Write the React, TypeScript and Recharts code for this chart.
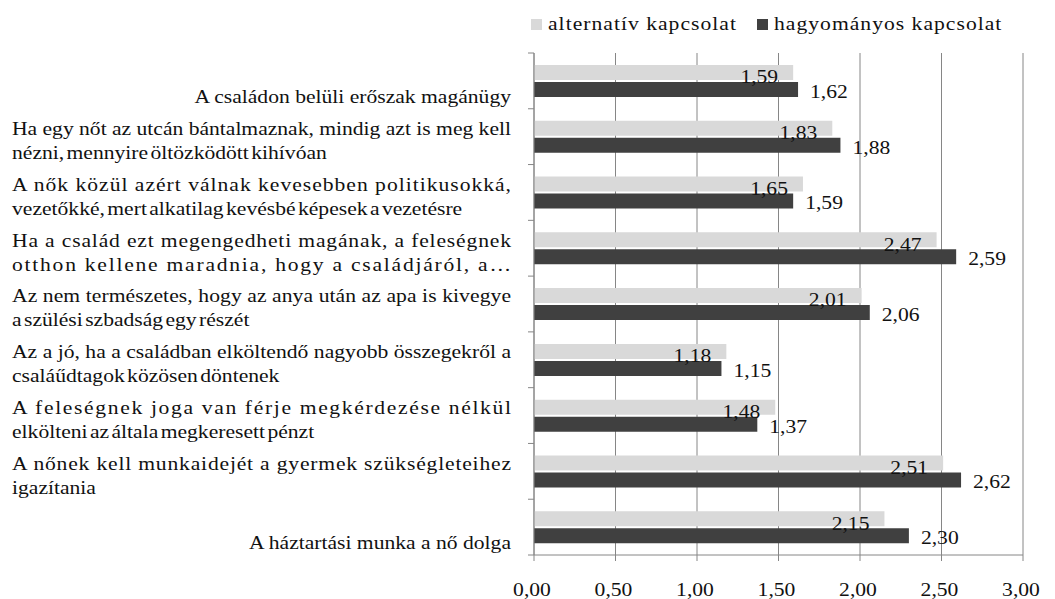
import React from 'react';
import { BarChart, Bar, XAxis, YAxis, CartesianGrid, LabelList } from 'recharts';

const categories = [
  'A családon belüli erőszak magánügy',
  'Ha egy nőt az utcán bántalmaznak, mindig azt is meg kell\nnézni, mennyire öltözködött kihívóan',
  'A nők közül azért válnak kevesebben politikusokká,\nvezetőkké, mert alkatilag kevésbé képesek a vezetésre',
  'Ha a család ezt megengedheti magának, a feleségnek\notthon kellene maradnia, hogy a családjáról, a…',
  'Az nem természetes, hogy az anya után az apa is kivegye\na szülési szbadság egy részét',
  'Az a jó, ha a családban elköltendő nagyobb összegekről a\ncsaláűdtagok közösen döntenek',
  'A feleségnek joga van férje megkérdezése nélkül\nelkölteni az általa megkeresett pénzt',
  'A nőnek kell munkaidejét a gyermek szükségleteihez\nigazítania',
  'A háztartási munka a nő dolga',
];
const seriesNames = ['alternatív kapcsolat', 'hagyományos kapcsolat'];
const alternativ = [1.59, 1.83, 1.65, 2.47, 2.01, 1.18, 1.48, 2.51, 2.15];
const hagyomanyos = [1.62, 1.88, 1.59, 2.59, 2.06, 1.15, 1.37, 2.62, 2.3];
const xTicks = [0, 0.5, 1, 1.5, 2, 2.5, 3];

const data = categories.map((c, i) => ({ cat: c, alt: alternativ[i], hag: hagyomanyos[i] }));

const W = 1055;
const H = 599;
const MARGIN = { top: 53, right: 32, bottom: 0, left: 0 };
const YW = 534;
const XH = 44;
const BAND = (H - MARGIN.top - MARGIN.bottom - XH) / categories.length;
const SX = 1.2;
const FONT = "'Liberation Serif', 'DejaVu Serif', Tinos, 'Times New Roman', serif";
const GRID = '#868686';
const LIGHT = '#d9d9d9';
const DARK = '#404040';
const TEXT = '#111';
const LABEL_LEFT = 12;
const LABEL_RIGHT = 511;

const fmt = (v: number) => v.toFixed(2).replace('.', ',');

const STxt = ({ x, y, anchor, children, justify, tight }: any) => (
  <g transform={`translate(${x},${y}) scale(${SX},1)`}>
    <text
      x={0}
      y={0}
      textAnchor={anchor}
      dominantBaseline="central"
      style={{ fontFamily: FONT, fontSize: 18, wordSpacing: tight ? -2.5 : 0 }}
      fill={TEXT}
      textLength={justify ? justify / SX : undefined}
      lengthAdjust={justify ? 'spacing' : undefined}
    >
      {children}
    </text>
  </g>
);

const CatTick = (props: any) => {
  const { x, y, payload, index } = props;
  const lines = String(payload.value).split('\n');
  const els: any[] = [];
  els.push(<line key="t0" x1={x - 6} x2={x} y1={y - BAND / 2} y2={y - BAND / 2} stroke={GRID} />);
  if (index === categories.length - 1) {
    els.push(<line key="t1" x1={x - 6} x2={x} y1={y + BAND / 2} y2={y + BAND / 2} stroke={GRID} />);
  }
  if (lines.length === 1) {
    els.push(
      <STxt key="l" x={LABEL_RIGHT} y={y + 16} anchor="end">
        {lines[0]}
      </STxt>
    );
  } else {
    lines.forEach((ln, i) => {
      const justify = i < lines.length - 1 || ln.endsWith('…');
      els.push(
        <STxt
          key={'l' + i}
          x={LABEL_LEFT}
          y={y - 8 + i * 24}
          anchor="start"
          justify={justify ? LABEL_RIGHT - LABEL_LEFT : undefined}
          tight={!justify}
        >
          {ln}
        </STxt>
      );
    });
  }
  return <g>{els}</g>;
};

const XTick = (props: any) => {
  const { x, y, payload } = props;
  return (
    <STxt x={x - 2} y={y + 29} anchor="middle">
      {fmt(payload.value)}
    </STxt>
  );
};

const AltLabel = (p: any) => {
  const { x, y, width, value } = p;
  return (
    <STxt x={x + width - 15} y={y + 12} anchor="end">
      {fmt(value)}
    </STxt>
  );
};

const HagLabel = (p: any) => {
  const { x, y, width, height, value } = p;
  return (
    <STxt x={x + width + 12} y={y + height / 2 + 2} anchor="start">
      {fmt(value)}
    </STxt>
  );
};

const LegendItem = ({ color, name }: any) => (
  <div style={{ display: 'flex', alignItems: 'center' }}>
    <div style={{ width: 11, height: 11, background: color, marginRight: 6 }} />
    <div
      style={{
        fontFamily: FONT,
        fontSize: 18,
        color: TEXT,
        letterSpacing: 0.85,
        transform: `scaleX(${SX})`,
        transformOrigin: 'left center',
        whiteSpace: 'nowrap',
      }}
    >
      {name}
    </div>
  </div>
);

export default function App() {
  return (
    <div style={{ position: 'absolute', left: 0, top: 0, width: W, height: H, background: '#fff' }}>
      <BarChart
        width={W}
        height={H}
        data={data}
        layout="vertical"
        margin={MARGIN}
        barSize={15}
        barGap={2}
      >
        <CartesianGrid horizontal={false} vertical stroke={GRID} />
        <XAxis
          type="number"
          domain={[0, 3]}
          ticks={xTicks}
          interval={0}
          height={XH}
          tickSize={6}
          tickMargin={0}
          axisLine={{ stroke: GRID }}
          tickLine={{ stroke: GRID }}
          tick={<XTick />}
        />
        <YAxis
          type="category"
          dataKey="cat"
          width={YW}
          interval={0}
          tickSize={0}
          tickMargin={0}
          tickLine={false}
          axisLine={{ stroke: GRID }}
          tick={<CatTick />}
        />
        <Bar dataKey="alt" name={seriesNames[0]} fill={LIGHT} isAnimationActive={false}>
          <LabelList dataKey="alt" content={<AltLabel />} />
        </Bar>
        <Bar dataKey="hag" name={seriesNames[1]} fill={DARK} isAnimationActive={false}>
          <LabelList dataKey="hag" content={<HagLabel />} />
        </Bar>
      </BarChart>
      <div style={{ position: 'absolute', left: 531, top: 14, display: 'flex' }}>
        <div style={{ width: 226, display: 'flex' }}>
          <LegendItem color={LIGHT} name={seriesNames[0]} />
        </div>
        <div style={{ display: 'flex' }}>
          <LegendItem color={DARK} name={seriesNames[1]} />
        </div>
      </div>
    </div>
  );
}
